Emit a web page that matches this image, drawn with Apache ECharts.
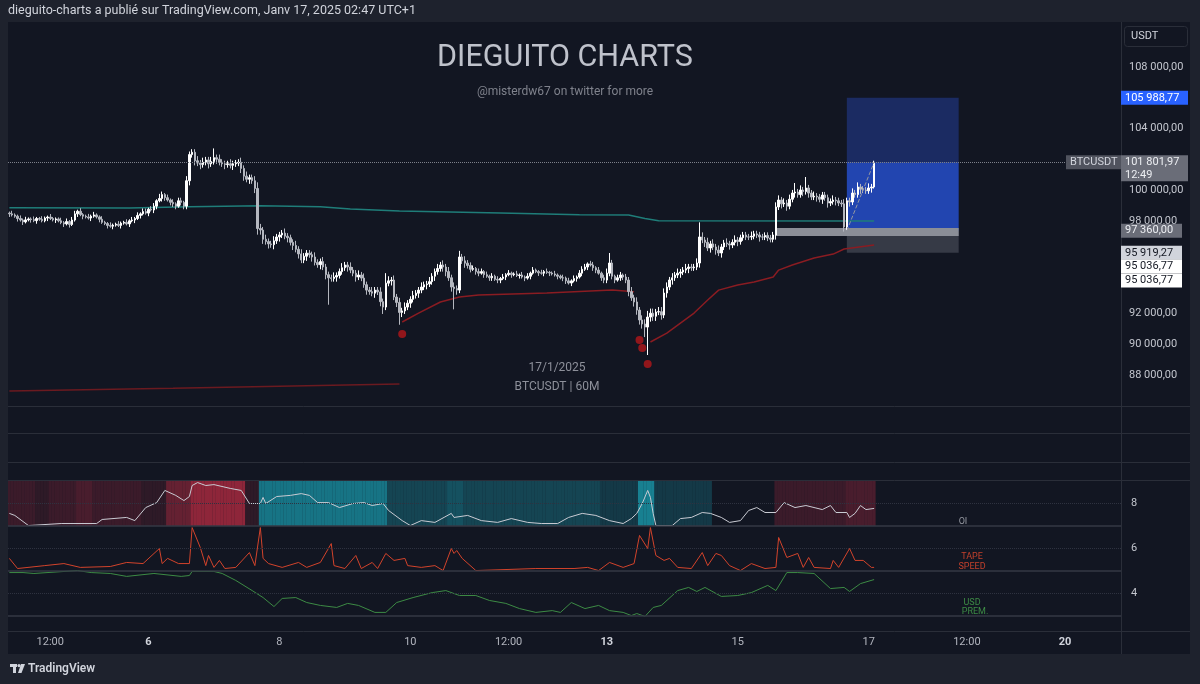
<!DOCTYPE html>
<html><head><meta charset="utf-8">
<script src="https://cdn.jsdelivr.net/npm/echarts@6/dist/echarts.min.js"></script>
<style>html,body{margin:0;padding:0;background:#1e222d;}#c{width:1200px;height:684px;}</style>
</head><body><div id="c"></div><script>
// ---------- DATA ----------
const firstOpen = 98500;
const closes = [
98450,98380,98300,98150,98050,97930,98060,98120,98080,98010,
98150,98100,98000,98180,98240,98150,98060,98120,98000,97880,
97800,97950,97760,98050,98450,98620,98400,98300,98250,98180,
98300,98380,98250,98100,97900,97820,97700,97650,97720,97780,
97700,97850,97900,97800,98000,98050,98150,98350,98450,98600,
98500,98750,98700,98950,99300,99450,99700,99500,99350,99200,
99100,98950,99300,99200,98950,100600,102300,102450,101900,101750,
101650,101800,101950,101700,101850,102100,102000,101800,101700,101650,
101700,101600,101700,101750,101800,101400,100900,100700,100800,100600,
100100,97500,97400,96800,96650,96500,96450,96700,96950,97080,
97200,97000,96900,96600,96400,96150,95850,95450,95700,95900,
95800,95650,95300,95150,95350,95000,94500,94300,94250,94350,
94450,94700,94950,95130,95000,94800,94600,94350,94480,94280,
93850,93500,93400,93300,93500,93380,92750,92400,93950,94100,
94150,93050,92700,92050,92150,92400,92650,92900,93150,93300,
93500,93700,93850,93900,94050,94400,94700,94900,95130,95000,
94700,94300,93700,93600,93500,95650,95400,95250,95100,94850,
94900,94700,94600,94700,94500,94400,94300,94400,94200,94150,
94250,94350,94500,94600,94500,94550,94450,94480,94350,94280,
94400,94600,94800,94700,94620,94600,94700,94650,94610,94550,
94480,94400,94300,94280,94100,93960,94100,94250,94350,94600,
94850,95000,95200,95130,94950,94800,94600,94300,94150,94600,
95260,94400,94150,94300,94480,94350,94150,93400,93000,92730,
92200,91560,91300,91100,91750,92000,91800,92077,92100,91880,
93310,93700,94155,94300,94480,94600,94675,94800,94900,95000,
94950,95000,95260,96950,96750,96600,96234,96500,96300,96100,
95909,96300,96560,96500,96428,96600,96753,96650,96900,97078,
96950,96948,97000,97150,97078,96950,96948,97050,96883,96800,
97078,98900,99350,99100,99155,98950,99400,99805,99870,99700,
100000,99900,100130,99800,99545,99600,99545,99400,99675,99500,
99155,99250,99350,99300,99155,99100,97600,99300,99220,99805,
99700,100195,100050,100000,99950,100130,100195,101802
];
// upper / lower wick lengths per candle, in hundreds of USD (estimated)
const upperWick = [
1,2,1,1,2,1,2,1,1,2, 1,1,2,1,1,2,1,1,1,2, 1,2,1,2,2,1,2,1,1,2, 1,2,1,1,2,1,1,2,1,1,
2,1,1,2,1,2,1,2,1,2, 2,1,2,2,1,3,2,1,2,1, 2,1,2,2,1,3,2,2,2,3, 2,3,2,2,3,2,2,3,2,2,
2,3,2,2,2,3,2,3,2,2, 3,4,3,2,3,2,2,3,2,2, 2,3,2,2,2,3,2,3,2,2, 2,2,3,2,2,3,2,2,2,3,
2,2,3,2,2,3,2,2,3,2, 3,2,2,3,2,2,3,2,4,3, 2,3,2,3,2,3,2,2,3,2, 2,3,2,2,3,2,2,3,2,3,
2,3,2,3,2,4,2,3,2,2, 2,1,2,2,1,2,1,2,1,2, 1,2,1,2,1,1,2,1,2,1, 2,1,2,1,1,2,1,2,1,1,
2,1,1,2,1,2,1,2,1,2, 2,2,1,2,2,1,2,1,2,3, 2,2,1,2,2,1,2,2,3,2, 3,2,3,3,4,3,3,2,3,3,
3,3,2,3,2,3,2,2,3,2, 2,2,3,4,3,2,3,2,3,2, 3,2,2,3,2,2,3,2,2,2, 2,2,3,2,2,2,2,2,2,2,
2,3,3,2,3,2,3,2,3,2, 3,2,3,2,2,3,2,2,2,2, 2,2,3,2,2,2,3,2,2,3, 2,3,2,2,2,3,2,1];
const lowerWick = [
2,1,1,2,1,2,1,1,2,1, 2,1,1,1,2,1,1,2,1,1, 2,1,2,1,1,2,1,2,1,1, 2,1,1,2,1,1,2,1,2,1,
1,2,1,1,2,1,2,1,2,1, 1,2,1,2,2,1,2,2,1,2, 2,2,1,2,2,2,3,2,3,2, 3,2,2,3,2,2,3,2,2,3,
2,2,3,2,2,3,3,2,3,2, 3,4,3,3,2,3,2,3,2,3, 2,2,3,2,3,2,3,2,2,3, 2,3,2,2,3,2,3,2,2,2,
3,2,2,2,3,2,2,3,2,2, 2,3,2,2,3,2,3,3,2,2, 3,2,3,2,3,2,2,3,2,2, 3,2,2,3,2,2,3,2,2,3,
3,2,3,2,3,2,2,3,2,2, 1,2,2,1,2,1,2,2,1,2, 2,1,2,1,2,1,1,2,1,2, 1,2,1,1,2,1,2,1,2,1,
1,2,1,2,2,1,2,1,2,1, 2,1,2,1,2,2,1,2,2,2, 2,2,2,1,2,2,2,3,2,3, 3,3,3,3,3,3,3,3,2,3,
2,3,2,3,2,2,3,2,2,3, 2,2,2,3,2,3,2,3,2,3, 2,3,2,2,3,2,2,3,2,2, 2,2,2,2,2,3,2,2,2,2,
2,3,2,3,2,3,2,2,3,2, 2,3,2,3,2,2,3,2,3,2, 3,2,2,3,2,2,3,2,3,2, 2,2,3,2,2,2,3,1];
// [index, high, low] notable long wicks
const wicks = [[67,102650,null],[75,102700,null],[91,null,97250],[117,null,92550],[137,null,91950],
 [138,94600,null],[143,null,91250],[163,null,92250],[165,95800,null],[220,95909,null],
 [233,null,90450],[234,null,89285],[253,97900,null],[288,100455,null],[292,100844,null],[306,null,97530]];
const tealMA = [[0,98850],[44,98830],[66,98910],[92,98980],[114,98920],[125,98770],[143,98640],[180,98500],[209,98400],[227,98370],[233,98150],[238,98000],[317,97990]];
const darkRedMA = [[0,86950],[60,87120],[143,87400]];
const vwap1 = [[144,91430],[150,92010],[158,92730],[165,93050],[172,93180],[197,93310],[221,93500],[229,93400]];
const vwap2 = [[235,90130],[241,90710],[246,91360],[251,92010],[256,92860],[260,93500],[267,93830],[273,94030],[280,94350],[282,94800],[287,95130],[295,95580],[302,95840],[306,96170],[317,96430]];
const lowDots = [[144,90650],[231,90260],[232,89740],[234,88700]];
const oiLine = [[0,7.56],[2,7.47],[7,7.02],[19,7.11],[32,7.11],[34,7.29],[43,7.38],[46,7.24],[50,7.82],[54,8.04],[57,8.58],[61,8.36],[64,8.13],[66,8.31],[67,8.8],[69,8.93],[72,8.8],[75,8.84],[81,8.67],[85,8.58],[88,8.0],[92,8.0],[93,8.27],[94,8.0],[98,8.31],[103,8.36],[107,8.44],[110,8.36],[113,8.04],[117,8.04],[121,7.82],[126,8.0],[130,8.04],[133,7.91],[137,8.0],[139,7.69],[144,7.24],[147,7.02],[151,7.24],[156,7.16],[162,7.56],[163,7.38],[168,7.47],[173,7.24],[179,7.16],[184,7.33],[190,7.16],[195,7.11],[201,7.11],[205,7.38],[210,7.56],[215,7.47],[220,7.24],[225,7.11],[228,7.33],[230,7.56],[232,8.0],[234,8.58],[235,8.27],[236,7.56],[237,7.02],[243,7.02],[246,7.33],[250,7.38],[254,7.6],[257,7.56],[261,7.38],[264,7.16],[268,7.24],[271,7.69],[274,7.82],[277,7.6],[281,7.6],[284,8.04],[288,7.82],[292,7.91],[298,7.73],[301,7.91],[303,7.6],[307,7.6],[308,7.38],[310,7.56],[312,7.91],[314,7.73],[317,7.78]];
const tapeLine = [[0,5.56],[3,5.11],[13,5.24],[20,5.33],[26,5.16],[37,5.2],[43,5.38],[49,5.33],[55,6.0],[56,5.33],[58,5.56],[62,5.33],[66,5.33],[67,6.93],[70,6.04],[72,5.24],[73,5.69],[75,5.16],[77,5.47],[79,5.11],[83,5.16],[88,5.82],[90,5.24],[92,6.93],[93,5.56],[95,5.33],[100,5.16],[106,5.38],[109,5.16],[114,5.38],[118,6.22],[119,5.24],[123,5.11],[127,5.69],[129,5.11],[133,5.38],[135,5.11],[138,5.78],[141,5.47],[145,5.56],[146,5.24],[151,5.16],[156,5.24],[159,5.02],[162,6.0],[163,5.78],[164,5.91],[166,5.56],[171,5.02],[193,5.11],[207,5.11],[212,5.16],[216,5.02],[220,5.38],[225,5.16],[229,5.33],[231,6.58],[234,6.0],[235,6.93],[237,5.69],[240,5.47],[242,5.56],[245,5.16],[250,5.11],[254,5.82],[256,5.24],[259,5.78],[261,5.69],[264,5.24],[268,5.02],[272,5.33],[277,5.11],[281,5.16],[282,6.49],[285,5.6],[289,5.78],[291,5.16],[293,5.6],[295,5.16],[301,5.11],[302,5.47],[304,5.16],[308,6.0],[310,5.47],[313,5.47],[316,5.16],[317,5.16]];
const usdLine = [[0,4.93],[5,4.93],[9,4.89],[25,5.02],[30,4.93],[37,4.89],[43,4.76],[53,4.89],[63,4.76],[66,4.8],[67,4.98],[75,4.98],[78,4.89],[83,4.58],[89,4.13],[93,3.82],[97,3.42],[100,3.78],[105,3.82],[109,3.6],[114,3.47],[120,3.38],[124,3.56],[128,3.47],[134,3.16],[138,3.16],[142,3.6],[148,3.82],[155,4.04],[160,4.13],[165,3.91],[171,3.91],[176,3.69],[182,3.56],[187,3.33],[193,3.16],[199,3.24],[202,3.16],[206,3.6],[211,3.33],[216,3.47],[220,3.24],[225,3.16],[228,3.02],[230,3.11],[233,2.98],[236,3.38],[239,3.47],[245,4.13],[249,4.27],[252,4.09],[255,4.27],[261,3.87],[267,3.91],[272,4.04],[278,4.36],[281,4.13],[285,4.93],[289,4.93],[295,4.89],[301,4.22],[306,4.27],[308,4.09],[312,4.44],[317,4.62]];
// OI heat background: [startIndex, endIndex, level] (+ red, - teal)
const heatRuns = [[0,9,3],[10,14,2],[15,24,3],[25,30,4],[31,48,3],[49,57,2],[58,66,6],[67,86,9],[87,91,2],
 [92,138,-8],[139,160,-4],[161,166,-5],[167,216,-4],[217,230,-3],[231,236,-9],[237,257,-3],[258,280,0],[281,306,3],[307,317,4]];
const timeTicks = ['2025-01-04T12:00','2025-01-06T00:00','2025-01-08T00:00','2025-01-10T00:00','2025-01-11T12:00','2025-01-13T00:00','2025-01-15T00:00','2025-01-17T00:00','2025-01-18T12:00','2025-01-20T00:00'];
const timeTickText = ['12:00','6','8','10','12:00','13','15','17','12:00','20'];
const boldTicks = ['6','13','20'];
const priceTicksShown = [108000,104000,100000,98000,92000,90000,88000];
const paneTicksShown = [8,6,4];
const lastPrice = 101801.97, targetPrice = 105988.77, entryPrice = 97360, stopPrice = 95919.27, markPrice = 95036.77;
const bandLow = 97010, bandHigh = 97530;
const posStart = 307, posEnd = 348, bandStart = 281;

// ---------- BUILD ----------
const BGC = '#121622';
const categories = [];
const t0 = Date.UTC(2025,0,3,21);
for (let i=0;i<408;i++){ categories.push(new Date(t0+i*3600e3).toISOString().slice(0,13)+':00'); }
const candles = closes.map((c,i)=>{const o=i?closes[i-1]:firstOpen;
  return [o,c,Math.min(o,c)-lowerWick[i]*100,Math.max(o,c)+upperWick[i]*100];});
wicks.forEach(([i,h,l])=>{ if(h!=null) candles[i][3]=Math.max(candles[i][3],h); if(l!=null) candles[i][2]=Math.min(candles[i][2],l); });
const heat = new Array(closes.length).fill(0);
heatRuns.forEach(([s,e,l])=>{for(let i=s;i<=e;i++) heat[i]=l;});
const BGRGB=[18,22,34], RED=[142,38,58], TEAL=[24,128,145];
function heatColor(l){ if(!l) return 'rgba(0,0,0,0)'; const t=Math.abs(l)/9, c=l>0?RED:TEAL;
  return 'rgb('+BGRGB.map((b,k)=>Math.round(b+(c[k]-b)*t)).join(',')+')'; }
const heatData = heat.map(l=>({value:1,itemStyle:{color:heatColor(l)}}));
function fmtPrice(v){ const p=v.toFixed(2).split('.'); return p[0].replace(/\B(?=(\d{3})+(?!\d))/g,' ')+','+p[1]; }
const FONT = 'Roboto, "Noto Sans", sans-serif';

const chart = echarts.init(document.getElementById('c'), null, {renderer:'canvas'});
const option = {
  backgroundColor: '#1e222d',
  animation: false,
  grid: [
    {left:8, top:36, width:1113, height:369.6},
    {left:8, top:481, width:1113, height:45},
    {left:8, top:481, width:1113, height:135}
  ],
  xAxis: [
    {type:'category', gridIndex:0, data:categories, show:false},
    {type:'category', gridIndex:1, data:categories, show:false},
    {type:'category', gridIndex:2, data:categories, axisLine:{show:false}, axisTick:{show:false}, splitLine:{show:false},
     axisLabel:{margin:21, color:'#b2b5be', fontSize:11, fontFamily:FONT,
       interval:(i,v)=>timeTicks.includes(v),
       formatter:(v)=>{const t=timeTickText[timeTicks.indexOf(v)]; return boldTicks.includes(t)?'{b|'+t+'}':t;},
       rich:{b:{fontWeight:'bold', color:'#d1d4dc', fontSize:11, fontFamily:FONT}}}}
  ],
  yAxis: [
    {type:'value', gridIndex:0, position:'right', min:86000, max:110000, interval:2000,
     axisLine:{show:false}, axisTick:{show:false}, splitLine:{show:false},
     axisLabel:{margin:8, color:'#c3c6ce', fontSize:11, fontFamily:FONT, formatter:v=>priceTicksShown.includes(v)?fmtPrice(v):''}},
    {type:'value', gridIndex:1, min:0, max:1, show:false},
    {type:'value', gridIndex:2, position:'right', min:3, max:9, interval:1,
     axisLine:{show:false}, axisTick:{show:false}, splitLine:{show:false},
     axisLabel:{margin:10, color:'#c3c6ce', fontSize:11, fontFamily:FONT, formatter:v=>paneTicksShown.includes(v)?String(v):''}}
  ],
  series: [
    {type:'line', name:'drawings', xAxisIndex:0, yAxisIndex:0, data:[], z:1, silent:true,
     markArea:{silent:true, data:[
       [{coord:[posStart,targetPrice], itemStyle:{color:'#1b2b62'}},{coord:[posEnd,lastPrice]}],
       [{coord:[posStart,lastPrice], itemStyle:{color:'#2245b0'}},{coord:[posEnd,entryPrice]}],
       [{coord:[posStart,entryPrice], itemStyle:{color:'#363a46'}},{coord:[posEnd,stopPrice]}],
       [{coord:[bandStart,bandHigh], itemStyle:{color:'#8b8e97'}},{coord:[posEnd,bandLow]}]
     ]},
     markLine:{silent:true, symbol:'none', label:{show:false}, lineStyle:{type:'dotted', color:'#7d808a', width:1},
       data:[{yAxis:lastPrice}]}},
    {type:'line', xAxisIndex:0, yAxisIndex:0, data:tealMA, showSymbol:false, silent:true, z:2,
     lineStyle:{color:'#1f7d79', width:1.5}},
    {type:'line', xAxisIndex:0, yAxisIndex:0, data:darkRedMA, showSymbol:false, silent:true, z:2,
     lineStyle:{color:'#6b1a20', width:1.5}},
    {type:'line', xAxisIndex:0, yAxisIndex:0, data:vwap1, showSymbol:false, silent:true, z:2,
     lineStyle:{color:'#8a1c22', width:1.5}},
    {type:'line', xAxisIndex:0, yAxisIndex:0, data:vwap2, showSymbol:false, silent:true, z:2,
     lineStyle:{color:'#8a1c22', width:1.5}},
    {type:'candlestick', xAxisIndex:0, yAxisIndex:0, data:candles, barWidth:'72%', z:3, silent:true,
     itemStyle:{color:'#ffffff', color0:'#b4b7bf', borderColor:'#ffffff', borderColor0:'#b4b7bf', borderWidth:1}},
    {type:'line', xAxisIndex:0, yAxisIndex:0, data:[[posStart,entryPrice],[closes.length-1,lastPrice]], showSymbol:false, silent:true, z:4,
     lineStyle:{color:'#9598a1', width:1, type:'dashed'}},
    {type:'scatter', xAxisIndex:0, yAxisIndex:0, data:lowDots, symbolSize:8, silent:true, z:4,
     itemStyle:{color:'#b3161a'}},
    {type:'bar', xAxisIndex:1, yAxisIndex:1, data:heatData, barWidth:3, silent:true, z:1},
    {type:'line', xAxisIndex:2, yAxisIndex:2, data:oiLine, showSymbol:false, silent:true, z:3,
     lineStyle:{color:'#c9cbd3', width:1},
     markLine:{silent:true, symbol:'none', label:{show:false}, data:[
       {yAxis:8, lineStyle:{type:'dotted', color:'#2e3240', width:1}},
       {yAxis:6, lineStyle:{type:'dotted', color:'#2e3240', width:1}},
       {yAxis:4, lineStyle:{type:'dotted', color:'#2e3240', width:1}},
       {yAxis:7, lineStyle:{type:'solid', color:'#343844', width:1.5}},
       {yAxis:5, lineStyle:{type:'solid', color:'#343844', width:1.5}},
       {yAxis:3, lineStyle:{type:'solid', color:'#343844', width:1.5}}
     ]}},
    {type:'line', xAxisIndex:2, yAxisIndex:2, data:tapeLine, showSymbol:false, silent:true, z:3,
     lineStyle:{color:'#d2432b', width:1}},
    {type:'line', xAxisIndex:2, yAxisIndex:2, data:usdLine, showSymbol:false, silent:true, z:3,
     lineStyle:{color:'#3d8b45', width:1}}
  ]
};
chart.setOption(option);

// ---------- GRAPHICS (chrome + axis tags positioned through the price scale) ----------
const yp = v => chart.convertToPixel({yAxisIndex:0}, v);
const G = [];
G.push({type:'rect', z:-10, shape:{x:8,y:22,width:1182,height:632}, style:{fill:BGC}});
[406.5,433.5,462.5,480.5,631.5].forEach(y=>G.push({type:'line', z:50, shape:{x1:8,y1:y,x2:1190,y2:y}, style:{stroke:'#2a2e39', lineWidth:1}}));
G.push({type:'line', z:50, shape:{x1:1121.5,y1:22,x2:1121.5,y2:654}, style:{stroke:'#2a2e39', lineWidth:1}});
const txt = (x,y,s,fill,size,align,weight)=>({type:'text', z:60, x:x, y:y, style:{text:s, fill:fill, font:(weight?weight+' ':'')+size+'px '+FONT, textAlign:align||'left', textVerticalAlign:'middle'}});
G.push(txt(8,11,'dieguito-charts a publié sur TradingView.com, Janv 17, 2025 02:47 UTC+1','#d1d4dc',12.5));
G.push(txt(565,58,'DIEGUITO CHARTS','#bfc2cb',30.5,'center'));
G.push(txt(565,92,'@misterdw67 on twitter for more','#7f828c',12,'center'));
G.push(txt(557,368,'17/1/2025','#8d909a',12,'center'));
G.push(txt(557,387,'BTCUSDT | 60M','#8d909a',12,'center'));
G.push(txt(963,522,'OI','#9598a1',9,'center'));
G.push(txt(972,557,'TAPE','#c2402c',9,'center'));
G.push(txt(972,567,'SPEED','#c2402c',9,'center'));
G.push(txt(972,603,'USD','#3d8b45',9,'center'));
G.push(txt(975,612,'PREM.','#3d8b45',9,'center'));
// footer logo + text
G.push({type:'rect', z:60, shape:{x:10,y:664,width:7,height:3}, style:{fill:'#d1d4dc'}});
G.push({type:'rect', z:60, shape:{x:13,y:664,width:3,height:9}, style:{fill:'#d1d4dc'}});
G.push({type:'circle', z:60, shape:{cx:19,cy:665.6,r:1.6}, style:{fill:'#d1d4dc'}});
G.push({type:'polygon', z:60, shape:{points:[[21,664],[25,664],[21.5,673],[18,673]]}, style:{fill:'#d1d4dc'}});
G.push(txt(28,669,'TradingView','#d1d4dc',12,'left','600'));
// USDT button
G.push({type:'rect', z:60, shape:{x:1124.5,y:26.5,width:63,height:20,r:3}, style:{fill:BGC, stroke:'#2a2e39'}});
G.push(txt(1131,36.5,'USDT','#d1d4dc',11));
// tags
function tag(y, lines, bg, fg, x, w){
  const h = lines.length>1 ? 26 : 14;
  G.push({type:'rect', z:70, shape:{x:x, y:y-7, width:w, height:h}, style:{fill:bg}});
  lines.forEach((s,k)=>G.push({type:'text', z:71, x:x+4, y:y+k*13, style:{text:s, fill:fg, font:'11px '+FONT, textVerticalAlign:'middle'}}));
}
const yLast = yp(lastPrice);
tag(yp(targetPrice), [fmtPrice(targetPrice)], '#2962ff', '#ffffff', 1121, 67);
tag(yLast, [fmtPrice(lastPrice), '12:49'], '#6a6d78', '#eceef2', 1121, 67);
G.push({type:'rect', z:70, shape:{x:1066, y:yLast-7, width:55, height:14}, style:{fill:'#50535e'}});
G.push({type:'text', z:71, x:1070, y:yLast, style:{text:'BTCUSDT', fill:'#d1d4dc', font:'11px '+FONT, textVerticalAlign:'middle'}});
tag(yp(entryPrice), [fmtPrice(entryPrice)], '#6a6d78', '#eceef2', 1121, 61);
tag(yp(stopPrice), [fmtPrice(stopPrice)], '#d1d4dc', '#131722', 1121, 61);
tag(yp(markPrice), [fmtPrice(markPrice)], '#ffffff', '#131722', 1121, 61);
tag(yp(markPrice)+14, [fmtPrice(markPrice)], '#ffffff', '#131722', 1121, 61);
chart.setOption({graphic:{elements:G}});
</script></body></html>
